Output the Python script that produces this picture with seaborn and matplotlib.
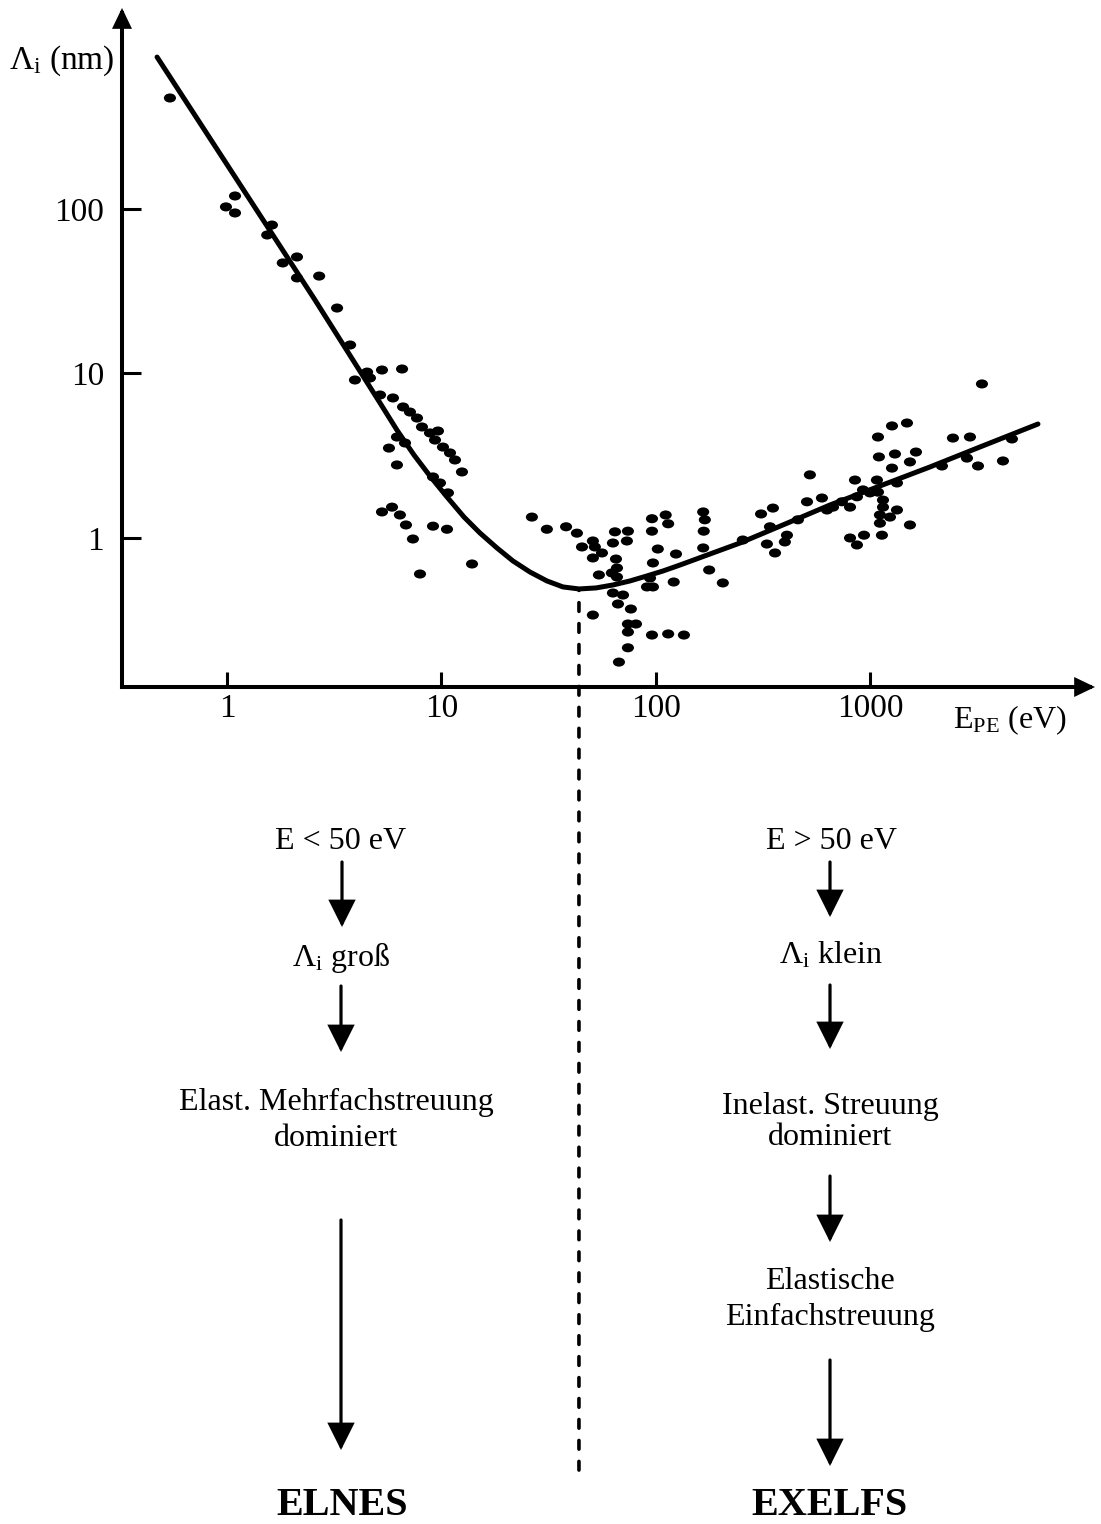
import matplotlib
matplotlib.use("Agg")
import matplotlib.pyplot as plt
import matplotlib.transforms as mtransforms
from matplotlib.patches import ConnectionPatch
from matplotlib.path import Path
from matplotlib.ticker import NullLocator
import seaborn as sns

# ---------------- data ----------------
# universal curve: electron energy E_PE (eV) vs inelastic mean free path (nm)
curve_E = [0.472, 1.537, 2.572, 4.306, 5.17, 6.20, 7.44, 8.84, 10.61, 12.73, 15.12,
           18.14, 21.54, 25.86, 31.03, 36.85, 43.75, 52.5, 63.0, 75.65, 90.8, 107.8,
           129.4, 178.5, 246.4, 421.4, 647.5, 1107, 1894, 3239, 6039]
curve_L = [839, 78.8, 28.0, 9.66, 6.62, 4.53, 3.20, 2.38, 1.776, 1.342, 1.072,
           0.870, 0.725, 0.621, 0.548, 0.504, 0.490, 0.497, 0.518, 0.548, 0.588, 0.630,
           0.685, 0.799, 0.932, 1.251, 1.587, 2.071, 2.702, 3.574, 4.93]

# measured points
meas_E = [0.542, 1.09, 0.989, 1.09, 1.62, 1.54, 1.82, 2.12, 2.12, 2.69,
          3.26, 3.75, 3.95, 4.50, 5.28, 6.55, 4.64, 5.17, 5.94, 6.62, 7.13, 7.69,
          8.11, 8.84, 9.63, 9.33, 10.16, 10.96, 11.56, 12.46, 6.20, 6.76, 5.69,
          6.20, 9.13, 9.84, 10.72, 5.28, 5.88, 6.40, 6.83, 7.36, 9.13, 10.61,
          7.94, 13.88,
          26.4, 31.0, 38.1, 42.8, 45.2, 50.8, 51.9, 56.0, 50.8, 64.4, 74.0, 73.2,
          63.0, 65.1, 65.8, 62.3, 54.2, 65.8, 63.0, 70.2, 66.5, 76.4, 50.8, 74.0,
          80.7, 74.0, 74.0, 67.2, 95.8, 111, 114, 95.8, 102, 124, 96.8, 93.8,
          96.8, 90.8, 121, 95.8, 114, 135,
          166, 169, 167, 166, 177, 205, 254, 309, 351, 340, 329, 359, 408, 399,
          459, 506, 522, 594, 627, 803, 847, 923, 803, 865, 933,
          3310, 1260, 1480, 1084, 1095, 1301, 1630, 1528, 1260, 2424, 2910, 2154,
          2818, 3172, 4147, 4567, 1072, 1329, 1084, 995, 865, 736, 669, 1144,
          1144, 1329, 1233, 1107, 1107, 1131, 1528]
meas_L = [473, 120, 103, 94.6, 79.9, 69.5, 47.0, 51.1, 38.1, 39.1,
          25.0, 14.9, 9.13, 10.2, 10.5, 10.65, 9.39, 7.40, 7.10, 6.26, 5.83, 5.36,
          4.73, 4.35, 4.47, 3.94, 3.57, 3.29, 2.98, 2.52, 4.11, 3.78, 3.52,
          2.78, 2.35, 2.16, 1.88, 1.44, 1.54, 1.38, 1.20, 0.986, 1.18, 1.13,
          0.604, 0.695,
          1.34, 1.13, 1.17, 1.07, 0.882, 0.959, 0.882, 0.811, 0.756, 1.09, 1.10, 0.959,
          0.932, 0.745, 0.657, 0.613, 0.596, 0.579, 0.463, 0.450, 0.397, 0.370, 0.340, 0.300,
          0.300, 0.268, 0.215, 0.176, 1.31, 1.38, 1.22, 1.10, 0.857, 0.799, 0.705, 0.571,
          0.504, 0.504, 0.540, 0.257, 0.261, 0.257,
          1.44, 1.29, 1.10, 0.870, 0.639, 0.533, 0.972, 1.40, 1.52, 1.17, 0.919, 0.811, 1.04, 0.946,
          1.29, 1.66, 2.42, 1.75, 1.48, 1.54, 2.25, 1.96, 1.00, 0.907, 1.04,
          8.64, 4.80, 5.00, 4.11, 3.11, 3.24, 3.33, 2.90, 2.66, 4.05, 4.11, 2.74,
          3.06, 2.74, 2.94, 4.00, 2.25, 2.16, 1.90, 1.88, 1.78, 1.66, 1.54, 1.70,
          1.54, 1.48, 1.34, 1.38, 1.23, 1.04, 1.20]

x_ticks = [1, 10, 100, 1000]
x_ticklabels = ["1", "10", "100", "1000"]
y_ticks = [1, 10, 100]
y_ticklabels = ["1", "10", "100"]
x_limits = (0.324, 11140)
y_limits = (0.1242, 1667)

left_texts = ["E < 50 eV", "Λ$_\\mathrm{i}$ groß", "Elast. Mehrfachstreuung", "dominiert"]
right_texts = ["E > 50 eV", "Λ$_\\mathrm{i}$ klein", "Inelast. Streuung", "dominiert",
               "Elastische", "Einfachstreuung"]
left_result = "ELNES"
right_result = "EXELFS"

# ---------------- style ----------------
sns.set_theme(style="white")
plt.rcParams["font.family"] = ["Liberation Serif", "DejaVu Serif"]
plt.rcParams["mathtext.fontset"] = "custom"
plt.rcParams["mathtext.rm"] = "Liberation Serif"
plt.rcParams["mathtext.it"] = "Liberation Serif:italic"
plt.rcParams["mathtext.bf"] = "Liberation Serif:bold"
plt.rcParams["text.color"] = "black"
plt.rcParams["axes.labelcolor"] = "black"
plt.rcParams["xtick.color"] = "black"
plt.rcParams["ytick.color"] = "black"

W, H = 1101, 1524
fig = plt.figure(figsize=(W / 100, H / 100), dpi=100)
fig.patch.set_facecolor("white")


def fx(x):
    return x / W


def fy(y):
    return 1 - y / H


ax = fig.add_axes([fx(122), fy(687), (1095 - 122) / W, (687 - 8) / H])
ax.set_facecolor("white")
ax.set_xscale("log")
ax.set_yscale("log")
ax.set_xlim(*x_limits)
ax.set_ylim(*y_limits)

# slightly flattened dot marker like the printed blobs
circ = Path.unit_circle()
dot = Path(circ.vertices * [1.0, 0.75], circ.codes)

sns.scatterplot(x=meas_E, y=meas_L, color="black", s=76, marker=dot, edgecolor="none",
                linewidth=0, ax=ax, zorder=3, clip_on=False)
sns.lineplot(x=curve_E, y=curve_L, sort=False, estimator=None, color="black",
             lw=3.6, ax=ax, zorder=4, solid_capstyle="round", solid_joinstyle="round")

for s in ["top", "right"]:
    ax.spines[s].set_visible(False)
for s in ["left", "bottom"]:
    ax.spines[s].set_linewidth(2.9)
    ax.spines[s].set_color("black")
ax.spines["bottom"].set_bounds(x_limits[0], x_limits[1] / 1.06)
ax.spines["left"].set_bounds(y_limits[0], y_limits[1] / 1.08)

# axis arrow heads
head = dict(arrowstyle="-|>,head_length=0.75,head_width=0.36", lw=0, color="black",
            mutation_scale=20, shrinkA=0, shrinkB=0)
ax.annotate("", xy=(1, 0), xycoords="axes fraction", xytext=(0.96, 0),
            textcoords="axes fraction", arrowprops=head, annotation_clip=False)
ax.annotate("", xy=(0, 1), xycoords="axes fraction", xytext=(0, 0.95),
            textcoords="axes fraction", arrowprops=head, annotation_clip=False)

ax.set_xticks(x_ticks)
ax.set_xticklabels(x_ticklabels)
ax.set_yticks(y_ticks)
ax.set_yticklabels(y_ticklabels)
ax.xaxis.set_minor_locator(NullLocator())
ax.yaxis.set_minor_locator(NullLocator())
ax.tick_params(axis="x", which="major", direction="in", length=11, width=2.2,
               labelsize=24, pad=5, colors="black", bottom=True)
ax.tick_params(axis="y", which="major", direction="in", length=14, width=2.2,
               labelsize=24, pad=13, colors="black", left=True)
ax.grid(False)

# axis titles
fig.text(fx(62), fy(69), "Λ$_\\mathrm{i}$ (nm)", ha="center", va="baseline", fontsize=24)
fig.text(fx(1010), fy(728), "E$_\\mathrm{PE}$ (eV)", ha="center", va="baseline", fontsize=23)

# dashed separation line from the curve minimum downwards
blend = mtransforms.blended_transform_factory(ax.transData, fig.transFigure)
con = ConnectionPatch(xyA=(curve_E[16], curve_L[16]), coordsA=ax.transData,
                      xyB=(curve_E[16], fy(1476)), coordsB=blend,
                      linestyle=(2, (2.4, 3.4)), lw=2.6, color="black")
fig.add_artist(con)

# ---------------- lower scheme ----------------
fs = 23
lx, rx = 341, 831
fig.text(fx(lx), fy(849), left_texts[0], ha="center", va="baseline", fontsize=fs)
fig.text(fx(lx), fy(966), left_texts[1], ha="center", va="baseline", fontsize=fs)
fig.text(fx(336), fy(1110), left_texts[2], ha="center", va="baseline", fontsize=fs)
fig.text(fx(336), fy(1146), left_texts[3], ha="center", va="baseline", fontsize=fs)

fig.text(fx(rx), fy(849), right_texts[0], ha="center", va="baseline", fontsize=fs)
fig.text(fx(rx), fy(963), right_texts[1], ha="center", va="baseline", fontsize=fs)
fig.text(fx(830), fy(1114), right_texts[2], ha="center", va="baseline", fontsize=fs)
fig.text(fx(830), fy(1145), right_texts[3], ha="center", va="baseline", fontsize=fs)
fig.text(fx(830), fy(1289), right_texts[4], ha="center", va="baseline", fontsize=fs)
fig.text(fx(830), fy(1325), right_texts[5], ha="center", va="baseline", fontsize=fs)

fig.text(fx(342), fy(1515), left_result, ha="center", va="baseline", fontsize=29,
         fontweight="bold")
fig.text(fx(830), fy(1515), right_result, ha="center", va="baseline", fontsize=29,
         fontweight="bold")

arrow_style = dict(arrowstyle="-|>,head_length=0.8,head_width=0.4", lw=2.3,
                   color="black", mutation_scale=20, shrinkA=0, shrinkB=0,
                   joinstyle="miter")


def flow_arrow(x, y0, y1):
    ax.annotate("", xy=(fx(x), fy(y1)), xycoords="figure fraction",
                xytext=(fx(x), fy(y0)), textcoords="figure fraction",
                arrowprops=arrow_style, annotation_clip=False)


flow_arrow(342, 862, 927)
flow_arrow(341, 986, 1052)
flow_arrow(341, 1220, 1450)
flow_arrow(830, 862, 917)
flow_arrow(830, 985, 1049)
flow_arrow(830, 1176, 1242)
flow_arrow(830, 1360, 1466)

fig.savefig("out.png", dpi=100, facecolor="white")
